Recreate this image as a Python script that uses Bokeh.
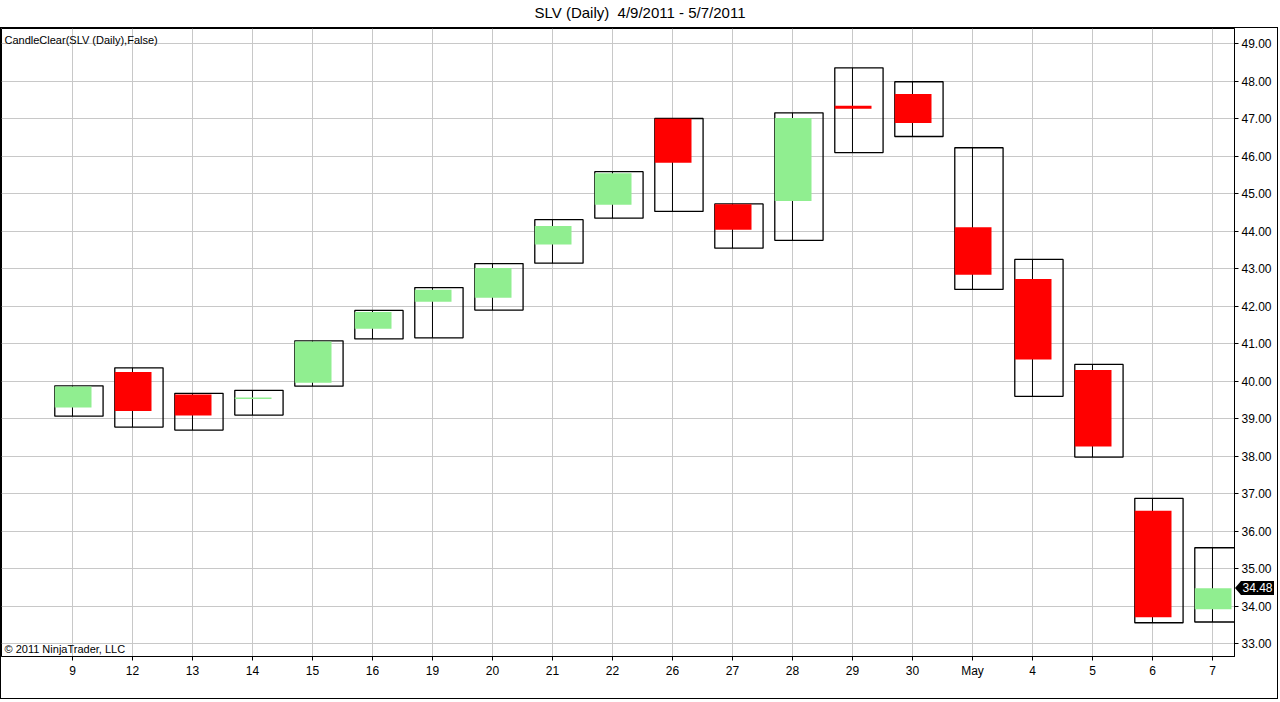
from bokeh.plotting import figure
from bokeh.models import Range1d, FixedTicker, NumeralTickFormatter, Label, Div, ColumnDataSource
from bokeh.layouts import column
from bokeh.transform import dodge
from bokeh.embed import file_html
from bokeh.resources import INLINE

# ---- data ----
day_labels = ["9", "12", "13", "14", "15", "16", "19", "20", "21", "22",
              "26", "27", "28", "29", "30", "May", "4", "5", "6", "7"]
opens  = [39.30, 40.25, 39.65, 39.53, 39.96, 41.40, 42.12, 42.23, 43.65, 44.71,
          47.00, 44.72, 44.81, 47.35, 47.66, 44.11, 42.73, 40.30, 36.55, 33.92]
highs  = [39.88, 40.36, 39.68, 39.76, 41.08, 41.89, 42.50, 43.14, 44.31, 45.59,
          47.01, 44.73, 47.16, 48.36, 47.99, 46.23, 43.25, 40.45, 36.88, 35.56]
lows   = [39.07, 38.78, 38.70, 39.10, 39.87, 41.13, 41.16, 41.90, 43.15, 44.35,
          44.53, 43.55, 43.76, 46.10, 46.53, 42.45, 39.60, 37.98, 33.56, 33.58]
closes = [39.86, 39.21, 39.09, 39.57, 41.06, 41.85, 42.44, 43.02, 44.14, 45.55,
          45.83, 44.04, 47.02, 47.27, 46.89, 42.84, 40.58, 38.26, 33.71, 34.48]
price_ticks = list(range(33, 50))
last_price = closes[-1]

UP_COLOR = "#90EE90"
DOWN_COLOR = "#FF0000"
GRID_COLOR = "#c8c8c8"
FONT = "Liberation Sans"

xs = list(range(len(day_labels)))
src = ColumnDataSource(dict(
    x=xs, open=opens, high=highs, low=lows, close=closes,
    top=[max(o, c) for o, c in zip(opens, closes)],
    bottom=[min(o, c) for o, c in zip(opens, closes)],
    color=[UP_COLOR if c >= o else DOWN_COLOR for o, c in zip(opens, closes)],
))

TITLE_H = 27
W, H = 1278, 672
BORDER_R, BORDER_B = 45, 44
Y0, Y1 = 32.66, 49.41
p = figure(width=W, height=H, x_range=Range1d(-1.183, 19.367), y_range=Range1d(Y0, Y1),
           output_backend="svg", toolbar_location=None, y_axis_location="right",
           min_border_left=0, min_border_top=0, min_border_right=BORDER_R, min_border_bottom=BORDER_B)
p.title = None
p.styles = {"border": "1px solid black"}
p.background_fill_color = "white"
p.border_fill_color = "white"
p.outline_line_color = "black"
p.outline_line_width = 1

# range boxes (high-low), wicks, bodies
p.quad(left=dodge("x", -0.295, range=p.x_range), right=dodge("x", 0.51, range=p.x_range),
       top="high", bottom="low", source=src, fill_color=None, line_color="black", line_width=1.3)
p.segment(x0="x", y0="low", x1="x", y1="high", source=src, line_color="black", line_width=1)
p.quad(left=dodge("x", -0.295, range=p.x_range), right=dodge("x", 0.317, range=p.x_range),
       top="top", bottom="bottom", source=src, fill_color="color", line_color=None)

# grid
p.xgrid.ticker = FixedTicker(ticks=xs)
p.ygrid.ticker = FixedTicker(ticks=price_ticks)
p.grid.grid_line_color = GRID_COLOR
p.grid.grid_line_width = 1

# axes
p.xaxis.ticker = FixedTicker(ticks=xs)
p.xaxis.major_label_overrides = {i: lab for i, lab in zip(xs, day_labels)}
p.yaxis.ticker = FixedTicker(ticks=price_ticks)
p.yaxis.formatter = NumeralTickFormatter(format="0.00")
for ax in (p.xaxis, p.yaxis):
    ax.axis_line_color = "black"
    ax.major_tick_line_color = "black"
    ax.major_tick_out = 4
    ax.major_tick_in = 0
    ax.minor_tick_line_color = None
    ax.major_label_text_font = FONT
    ax.major_label_text_font_size = "12px"
    ax.major_label_text_color = "black"
    ax.major_label_standoff = 3

# texts inside the plot
p.add_layout(Label(x=-1.183, y=49.25, x_offset=3, text="CandleClear(SLV (Daily),False)",
                   text_baseline="top", text_font=FONT, text_font_size="11px", text_color="black"))
p.add_layout(Label(x=-1.183, y=32.70, x_offset=3, text="\u00a9 2011 NinjaTrader, LLC",
                   text_baseline="bottom", text_font=FONT, text_font_size="11px", text_color="black"))

title = Div(text="SLV (Daily)&nbsp; 4/9/2011 - 5/7/2011", width=W + 2, height=TITLE_H,
            styles={"font-family": FONT, "font-size": "15px", "text-align": "center",
                    "line-height": "26px", "color": "black", "margin": "0", "padding": "0"})

# last price marker, placed on the price axis
frame_h = H - BORDER_B
frame_top = TITLE_H + 1
marker_cy = frame_top + (Y1 - last_price) / (Y1 - Y0) * frame_h
axis_x = W - BORDER_R + 1
marker = Div(text=f"{last_price:.2f}", width=33, height=14,
             styles={"position": "absolute", "left": f"{axis_x + 7}px", "top": f"{marker_cy - 7:.1f}px",
                     "background-color": "black", "color": "white", "font-family": FONT,
                     "font-size": "12px", "line-height": "14px", "text-align": "center",
                     "margin": "0", "padding": "0"})
arrow = Div(text="", width=0, height=0,
            styles={"position": "absolute", "left": f"{axis_x + 1}px", "top": f"{marker_cy - 7:.1f}px",
                    "width": "0px", "height": "0px", "border-top": "7px solid transparent",
                    "border-bottom": "7px solid transparent", "border-right": "6px solid black",
                    "margin": "0", "padding": "0"})

layout = column(title, p, marker, arrow, spacing=0)
layout.styles = {"position": "relative"}
open("out.html", "w").write(file_html(layout, INLINE))
